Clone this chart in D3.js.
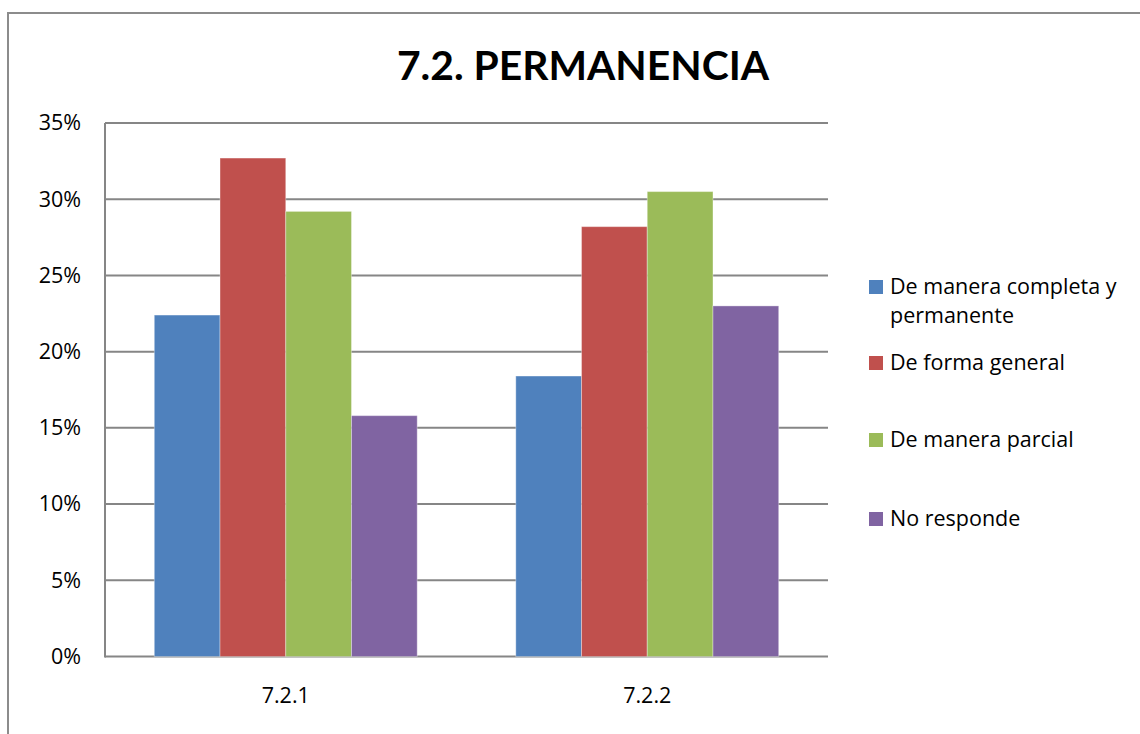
<!DOCTYPE html>
<html><head><meta charset="utf-8">
<script src="https://cdn.jsdelivr.net/npm/d3@7"></script>
<style>body{margin:0;background:#fff;} svg{display:block;}</style>
</head><body>
<svg id="chart" width="1140" height="734"></svg>
<script>
const title = "7.2. PERMANENCIA";
const categories = ["7.2.1", "7.2.2"];
const seriesNames = ["De manera completa y permanente", "De forma general", "De manera parcial", "No responde"];
const seriesColors = ["#4F81BD", "#C0504D", "#9BBB59", "#8064A2"];
const completa = [0.224, 0.184];
const general = [0.327, 0.282];
const parcial = [0.292, 0.305];
const noResponde = [0.158, 0.230];
const yTicks = [0, 0.05, 0.10, 0.15, 0.20, 0.25, 0.30, 0.35];
const legendLines = [["De manera completa y", "permanente"], ["De forma general"], ["De manera parcial"], ["No responde"]];

const seriesValues = [completa, general, parcial, noResponde];
const font = "'Open Sans', Lato, sans-serif";
const titleFont = "Lato, 'Open Sans', sans-serif";
const svg = d3.select("#chart");

// outer frame
svg.append("rect").attr("x", 8).attr("y", 13).attr("width", 1200).attr("height", 800)
  .attr("fill", "#fff").attr("stroke", "#8c8c8c").attr("stroke-width", 2);

const plot = {left: 105, right: 828, top: 123, bottom: 656.5};
const y = d3.scaleLinear().domain([0, 0.35]).range([plot.bottom, plot.top]);
const x0 = d3.scaleBand().domain(categories).range([plot.left, plot.right]).paddingInner(0).paddingOuter(0);
const x1 = d3.scaleBand().domain(d3.range(seriesNames.length)).range([0, x0.bandwidth()]).paddingOuter(0.75).paddingInner(0);

// gridlines
svg.append("g").selectAll("line").data(yTicks).join("line")
  .attr("x1", plot.left).attr("x2", plot.right)
  .attr("y1", d => y(d)).attr("y2", d => y(d))
  .attr("stroke", "#868686").attr("stroke-width", 2);

// bars
const groups = svg.append("g").selectAll("g").data(categories).join("g")
  .attr("transform", c => `translate(${x0(c)},0)`);
groups.selectAll("rect").data((c, ci) => seriesValues.map((s, si) => ({si, v: s[ci]}))).join("rect")
  .attr("x", d => x1(d.si)).attr("width", x1.bandwidth())
  .attr("y", d => y(d.v)).attr("height", d => y(0) - y(d.v))
  .attr("fill", d => seriesColors[d.si])
  .attr("stroke", "rgba(255,255,255,0.35)").attr("stroke-width", 1);

// axes
const yAxis = d3.axisLeft(y).tickValues(yTicks).tickFormat(d3.format(".0%")).tickSize(0).tickPadding(24);
const gy = svg.append("g").attr("transform", `translate(${plot.left},0)`).call(yAxis);
gy.select(".domain").remove();
gy.selectAll("text").attr("font-family", font).attr("font-size", 21.5).attr("fill", "#000");
svg.append("line").attr("x1", plot.left).attr("x2", plot.left).attr("y1", plot.top).attr("y2", plot.bottom + 1)
  .attr("stroke", "#868686").attr("stroke-width", 2);

const xAxis = d3.axisBottom(x0).tickSize(0).tickPadding(31);
const gx = svg.append("g").attr("transform", `translate(0,${plot.bottom})`).call(xAxis);
gx.select(".domain").remove();
gx.selectAll("text").attr("font-family", font).attr("font-size", 21.5).attr("fill", "#000");

// title
svg.append("text").attr("x", 583).attr("y", 80).attr("text-anchor", "middle")
  .attr("font-family", titleFont).attr("font-weight", "bold").attr("font-size", 40.8).attr("fill", "#000")
  .text(title);

// legend
const legendY = [287, 363, 440, 519];
const lg = svg.append("g").selectAll("g").data(seriesNames).join("g")
  .attr("transform", (d, i) => `translate(869,${legendY[i]})`);
lg.append("rect").attr("x", 0).attr("y", -7).attr("width", 14).attr("height", 14)
  .attr("fill", (d, i) => seriesColors[i]);
lg.each(function(d, i) {
  const t = d3.select(this).append("text").attr("x", 21).attr("y", 7)
    .attr("font-family", font).attr("font-size", 21.5).attr("fill", "#000");
  legendLines[i].forEach((ln, j) => t.append("tspan").attr("x", 21).attr("dy", j === 0 ? 0 : 29).text(ln));
});
</script>
</body></html>
